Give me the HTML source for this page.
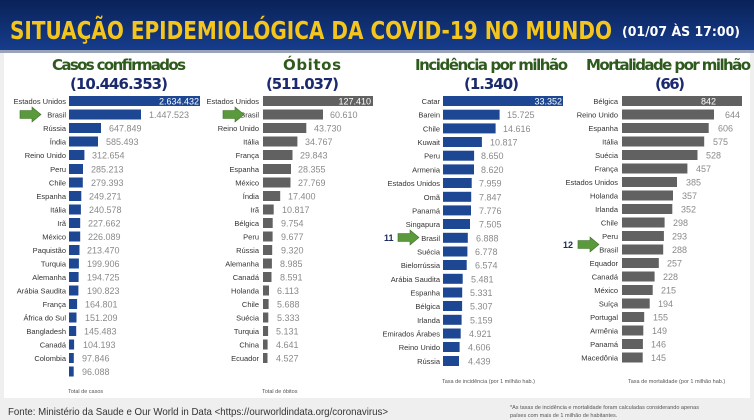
<!DOCTYPE html><html><head><meta charset="utf-8"><style>body{margin:0;width:754px;height:420px;overflow:hidden;background:#f2f2f2}svg{display:block}</style></head><body>
<svg width="754" height="420" xmlns="http://www.w3.org/2000/svg" font-family="Liberation Sans, sans-serif">
<defs><linearGradient id="hg" x1="0" y1="0" x2="0" y2="1"><stop offset="0" stop-color="#0a2258"/><stop offset="1" stop-color="#163c8c"/></linearGradient></defs>
<rect x="0" y="0" width="754" height="420" fill="#efefef"/>
<rect x="4" y="52" width="746" height="346" fill="#ffffff"/>
<rect x="0" y="0" width="754" height="50" fill="url(#hg)"/>
<rect x="0" y="50" width="754" height="3" fill="#9aa4b8"/>
<text x="10" y="39" font-family="DejaVu Sans, sans-serif" font-weight="bold" font-size="25" fill="#f4c51c" textLength="602" lengthAdjust="spacingAndGlyphs">SITUAÇÃO EPIDEMIOLÓGICA DA COVID-19 NO MUNDO</text>
<text x="622" y="36" font-family="DejaVu Sans, sans-serif" font-weight="bold" font-size="13" fill="#ffffff" textLength="118" lengthAdjust="spacingAndGlyphs">(01/07 ÀS 17:00)</text>
<g font-family="DejaVu Sans, sans-serif" font-weight="bold" font-size="15" lengthAdjust="spacingAndGlyphs">
<text x="52" y="70" fill="#2f5a1e" textLength="134">Casos confirmados</text><text x="70" y="89" fill="#1b2a6e" textLength="98">(10.446.353)</text>
<text x="283" y="70" fill="#2f5a1e" textLength="58">Óbitos</text><text x="266" y="89" fill="#1b2a6e" textLength="73">(511.037)</text>
<text x="415" y="70" fill="#2f5a1e" textLength="153">Incidência por milhão</text><text x="464" y="89" fill="#1b2a6e" textLength="55">(1.340)</text>
<text x="586" y="70" fill="#2f5a1e" textLength="165">Mortalidade por milhão</text><text x="655" y="89" fill="#1b2a6e" textLength="30">(66)</text>
</g>
<g font-size="7.5" fill="#333" text-anchor="end">
<text x="66" y="104">Estados Unidos</text><text x="66" y="117.5">Brasil</text><text x="66" y="131">Rússia</text><text x="66" y="144.5">Índia</text><text x="66" y="158">Reino Unido</text><text x="66" y="172">Peru</text><text x="66" y="185.5">Chile</text><text x="66" y="199">Espanha</text><text x="66" y="212.5">Itália</text><text x="66" y="226">Irã</text><text x="66" y="239.5">México</text><text x="66" y="253">Paquistão</text><text x="66" y="266.5">Turquia</text><text x="66" y="280">Alemanha</text><text x="66" y="293.5">Arábia Saudita</text><text x="66" y="307">França</text><text x="66" y="320.5">África do Sul</text><text x="66" y="334">Bangladesh</text><text x="66" y="347.5">Canadá</text><text x="66" y="361">Colombia</text>
<text x="259" y="104">Estados Unidos</text><text x="259" y="117.5">Brasil</text><text x="259" y="131">Reino Unido</text><text x="259" y="144.5">Itália</text><text x="259" y="158">França</text><text x="259" y="172">Espanha</text><text x="259" y="185.5">México</text><text x="259" y="199">Índia</text><text x="259" y="212.5">Irã</text><text x="259" y="226">Bélgica</text><text x="259" y="239.5">Peru</text><text x="259" y="253">Rússia</text><text x="259" y="266.5">Alemanha</text><text x="259" y="280">Canadá</text><text x="259" y="293.5">Holanda</text><text x="259" y="307">Chile</text><text x="259" y="320.5">Suécia</text><text x="259" y="334">Turquia</text><text x="259" y="347.5">China</text><text x="259" y="361">Ecuador</text>
<text x="440" y="104">Catar</text><text x="440" y="117.7">Barein</text><text x="440" y="131.4">Chile</text><text x="440" y="145">Kuwait</text><text x="440" y="158.7">Peru</text><text x="440" y="172.4">Armenia</text><text x="440" y="186">Estados Unidos</text><text x="440" y="199.8">Omã</text><text x="440" y="213.4">Panamá</text><text x="440" y="227">Singapura</text><text x="440" y="240.8">Brasil</text><text x="440" y="254.5">Suécia</text><text x="440" y="268">Bielorrússia</text><text x="440" y="281.8">Arábia Saudita</text><text x="440" y="295.5">Espanha</text><text x="440" y="309">Bélgica</text><text x="440" y="322.8">Irlanda</text><text x="440" y="336.5">Emirados Árabes</text><text x="440" y="350">Reino Unido</text><text x="440" y="364">Rússia</text>
<text x="618" y="104">Bélgica</text><text x="618" y="117.5">Reino Unido</text><text x="618" y="131">Espanha</text><text x="618" y="144.5">Itália</text><text x="618" y="158">Suécia</text><text x="618" y="171.5">França</text><text x="618" y="185">Estados Unidos</text><text x="618" y="198.5">Holanda</text><text x="618" y="212">Irlanda</text><text x="618" y="225.5">Chile</text><text x="618" y="239">Peru</text><text x="618" y="252.5">Brasil</text><text x="618" y="266">Equador</text><text x="618" y="279.5">Canadá</text><text x="618" y="293">México</text><text x="618" y="306.5">Suíça</text><text x="618" y="320">Portugal</text><text x="618" y="333.5">Armênia</text><text x="618" y="347">Panamá</text><text x="618" y="360.5">Macedônia</text>
</g>
<g fill="#1d4793">
<rect x="69" y="96" width="131" height="10"/><rect x="69" y="109.5" width="72" height="10"/><rect x="69" y="123" width="32" height="10"/><rect x="69" y="136.5" width="29" height="10"/><rect x="69" y="150" width="15.4" height="10"/><rect x="69" y="164" width="14" height="10"/><rect x="69" y="177.5" width="13.8" height="10"/><rect x="69" y="191" width="12.3" height="10"/><rect x="69" y="204.5" width="11.9" height="10"/><rect x="69" y="218" width="11.2" height="10"/><rect x="69" y="231.5" width="11.2" height="10"/><rect x="69" y="245" width="10.5" height="10"/><rect x="69" y="258.5" width="9.9" height="10"/><rect x="69" y="272" width="9.6" height="10"/><rect x="69" y="285.5" width="9.4" height="10"/><rect x="69" y="299" width="8.1" height="10"/><rect x="69" y="312.5" width="7.5" height="10"/><rect x="69" y="326" width="7.2" height="10"/><rect x="69" y="339.5" width="5.1" height="10"/><rect x="69" y="353" width="4.8" height="10"/><rect x="69" y="366.5" width="4.7" height="10"/>
<rect x="443" y="96" width="120" height="10"/><rect x="443" y="109.7" width="56.6" height="10"/><rect x="443" y="123.4" width="52.6" height="10"/><rect x="443" y="137" width="38.9" height="10"/><rect x="443" y="150.7" width="31.1" height="10"/><rect x="443" y="164.4" width="31" height="10"/><rect x="443" y="178" width="28.7" height="10"/><rect x="443" y="191.8" width="28.2" height="10"/><rect x="443" y="205.4" width="28" height="10"/><rect x="443" y="219" width="27" height="10"/><rect x="443" y="232.8" width="24.8" height="10"/><rect x="443" y="246.5" width="24.4" height="10"/><rect x="443" y="260" width="23.7" height="10"/><rect x="443" y="273.8" width="19.7" height="10"/><rect x="443" y="287.5" width="19.2" height="10"/><rect x="443" y="301" width="19.1" height="10"/><rect x="443" y="314.8" width="18.6" height="10"/><rect x="443" y="328.5" width="17.7" height="10"/><rect x="443" y="342" width="16.6" height="10"/><rect x="443" y="356" width="16" height="10"/>
</g>
<g fill="#616161">
<rect x="263" y="96" width="110" height="10"/><rect x="263" y="109.5" width="60" height="10"/><rect x="263" y="123" width="43.3" height="10"/><rect x="263" y="136.5" width="34.4" height="10"/><rect x="263" y="150" width="29.5" height="10"/><rect x="263" y="164" width="28" height="10"/><rect x="263" y="177.5" width="27.5" height="10"/><rect x="263" y="191" width="17.2" height="10"/><rect x="263" y="204.5" width="10.7" height="10"/><rect x="263" y="218" width="9.7" height="10"/><rect x="263" y="231.5" width="9.6" height="10"/><rect x="263" y="245" width="9.2" height="10"/><rect x="263" y="258.5" width="8.9" height="10"/><rect x="263" y="272" width="8.5" height="10"/><rect x="263" y="285.5" width="6" height="10"/><rect x="263" y="299" width="5.6" height="10"/><rect x="263" y="312.5" width="5.3" height="10"/><rect x="263" y="326" width="5.1" height="10"/><rect x="263" y="339.5" width="4.6" height="10"/><rect x="263" y="353" width="4.5" height="10"/>
<rect x="622" y="96" width="120" height="10"/><rect x="622" y="109.5" width="92" height="10"/><rect x="622" y="123" width="86.7" height="10"/><rect x="622" y="136.5" width="82.2" height="10"/><rect x="622" y="150" width="75.5" height="10"/><rect x="622" y="163.5" width="65.4" height="10"/><rect x="622" y="177" width="55" height="10"/><rect x="622" y="190.5" width="51" height="10"/><rect x="622" y="204" width="50.3" height="10"/><rect x="622" y="217.5" width="42.6" height="10"/><rect x="622" y="231" width="41.9" height="10"/><rect x="622" y="244.5" width="41.2" height="10"/><rect x="622" y="258" width="36.8" height="10"/><rect x="622" y="271.5" width="32.6" height="10"/><rect x="622" y="285" width="30.7" height="10"/><rect x="622" y="298.5" width="27.7" height="10"/><rect x="622" y="312" width="22.2" height="10"/><rect x="622" y="325.5" width="21.3" height="10"/><rect x="622" y="339" width="20.9" height="10"/><rect x="622" y="352.5" width="20.7" height="10"/>
</g>
<g font-size="9" fill="#8a8a8a">
<text x="149" y="118">1.447.523</text><text x="109" y="131.5">647.849</text><text x="106" y="145">585.493</text><text x="92" y="158.5">312.654</text><text x="91" y="172.5">285.213</text><text x="91" y="186">279.393</text><text x="89" y="199.5">249.271</text><text x="89" y="213">240.578</text><text x="88" y="226.5">227.662</text><text x="88" y="240">226.089</text><text x="87" y="253.5">213.470</text><text x="87" y="267">199.906</text><text x="87" y="280.5">194.725</text><text x="87" y="294">190.823</text><text x="85" y="307.5">164.801</text><text x="85" y="321">151.209</text><text x="84" y="334.5">145.483</text><text x="83" y="348">104.193</text><text x="82" y="361.5">97.846</text><text x="82" y="375">96.088</text>
<text x="330" y="118">60.610</text><text x="314" y="131.5">43.730</text><text x="305" y="145">34.767</text><text x="300" y="158.5">29.843</text><text x="298" y="172.5">28.355</text><text x="298" y="186">27.769</text><text x="288" y="199.5">17.400</text><text x="282" y="213">10.817</text><text x="281" y="226.5">9.754</text><text x="281" y="240">9.677</text><text x="281" y="253.5">9.320</text><text x="280" y="267">8.985</text><text x="280" y="280.5">8.591</text><text x="277" y="294">6.113</text><text x="277" y="307.5">5.688</text><text x="277" y="321">5.333</text><text x="276" y="334.5">5.131</text><text x="276" y="348">4.641</text><text x="276" y="361.5">4.527</text>
<text x="507" y="118">15.725</text><text x="503" y="132">14.616</text><text x="490" y="145.5">10.817</text><text x="481" y="159">8.650</text><text x="481" y="173">8.620</text><text x="479" y="186.5">7.959</text><text x="479" y="200.3">7.847</text><text x="479" y="214">7.776</text><text x="479" y="227.5">7.505</text><text x="476" y="241.3">6.888</text><text x="475" y="255">6.778</text><text x="475" y="268.5">6.574</text><text x="471" y="282.3">5.481</text><text x="470" y="296">5.331</text><text x="470" y="309.5">5.307</text><text x="470" y="323.3">5.159</text><text x="469" y="337">4.921</text><text x="468" y="350.5">4.606</text><text x="468" y="364.5">4.439</text>
<text x="725" y="118">644</text><text x="718" y="131.5">606</text><text x="713" y="145">575</text><text x="706" y="158.5">528</text><text x="696" y="172">457</text><text x="686" y="185.5">385</text><text x="682" y="199">357</text><text x="681" y="212.5">352</text><text x="673" y="226">298</text><text x="672" y="239.5">293</text><text x="672" y="253">288</text><text x="667" y="266.5">257</text><text x="663" y="280">228</text><text x="661" y="293.5">215</text><text x="658" y="307">194</text><text x="653" y="320.5">155</text><text x="652" y="334">149</text><text x="651" y="347.5">146</text><text x="651" y="361">145</text>
</g>
<g font-size="9" fill="#ffffff" text-anchor="end">
<text x="199" y="104.5">2.634.432</text><text x="371" y="104.5">127.410</text><text x="562" y="104.5">33.352</text><text x="716" y="104.5">842</text>
</g>
<g fill="#5a9a3c" stroke="#3d6e28" stroke-width="0.6">
<polygon points="20,110.5 32,110.5 32,107 41,114.5 32,122 32,118.5 20,118.5"/>
<polygon points="223,110.5 235,110.5 235,107 244,114.5 235,122 235,118.5 223,118.5"/>
<polygon points="398,233.5 410,233.5 410,230 419,237.5 410,245 410,241.5 398,241.5"/>
<polygon points="578,240.5 590,240.5 590,237 599,244.5 590,252 590,248.5 578,248.5"/>
</g>
<g font-size="9" font-weight="bold" fill="#1b2a5e"><text x="384" y="241">11</text><text x="563" y="248">12</text></g>
<g font-size="5.5" fill="#555">
<text x="68" y="393">Total de casos</text><text x="262" y="393">Total de óbitos</text><text x="442" y="383">Taxa de incidência (por 1 milhão hab.)</text><text x="628" y="383">Taxa de mortalidade (por 1 milhão hab.)</text>
<text x="510" y="409">*As taxas de incidência e mortalidade foram calculadas considerando apenas</text><text x="510" y="417">países com mais de 1 milhão de habitantes.</text>
</g>
<text x="8" y="415" font-size="10.5" fill="#333" textLength="380" lengthAdjust="spacingAndGlyphs">Fonte: Ministério da Saude e Our World in Data &lt;https://ourworldindata.org/coronavirus&gt;</text>
</svg>
</body></html>
